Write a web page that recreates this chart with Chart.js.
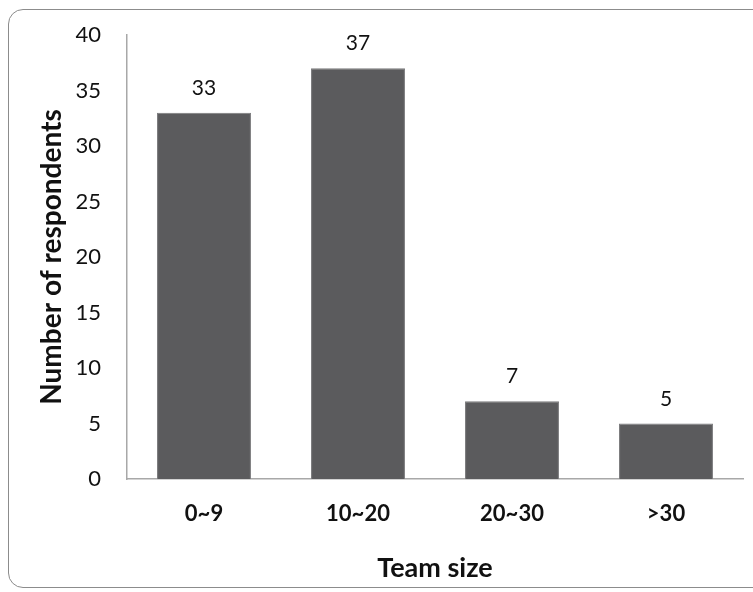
<!DOCTYPE html>
<html>
<head>
<meta charset="utf-8">
<script src="https://cdn.jsdelivr.net/npm/chart.js@4"></script>
<style>
  html, body { margin: 0; padding: 0; background: #fff; }
  #wrap { position: relative; width: 753px; height: 592px; overflow: hidden; }
  #frame {
    position: absolute; left: 8px; top: 9px; width: 770px; height: 579px;
    border: 1.5px solid #8c8c8c; border-radius: 15px; box-sizing: border-box;
  }
  canvas { position: absolute; left: 0; top: 0; }
</style>
</head>
<body>
<div id="wrap">
  <div id="frame"></div>
  <canvas id="chart" width="753" height="592"></canvas>
</div>
<script>
const categories = ['0~9', '10~20', '20~30', '>30'];
const respondents = [33, 37, 7, 5];
const yTicks = [0, 5, 10, 15, 20, 25, 30, 35, 40];

const FONT = 'Lato, "Open Sans", sans-serif';

// draws the count above each bar
const valueLabels = {
  id: 'valueLabels',
  afterDatasetsDraw(chart) {
    const ctx = chart.ctx;
    const meta = chart.getDatasetMeta(0);
    ctx.save();
    ctx.font = '21px ' + FONT;
    ctx.fillStyle = '#111';
    ctx.textAlign = 'center';
    ctx.textBaseline = 'alphabetic';
    meta.data.forEach((bar, i) => {
      ctx.fillText(String(chart.data.datasets[0].data[i]), bar.x, bar.y - 18);
    });
    ctx.restore();
  }
};

new Chart(document.getElementById('chart'), {
  type: 'bar',
  data: {
    labels: categories,
    datasets: [{
      data: respondents,
      backgroundColor: '#5b5b5d',
      borderColor: '#7a7a7c',
      borderWidth: 1,
      barPercentage: 0.61,
      categoryPercentage: 1
    }]
  },
  options: {
    responsive: false,
    animation: false,
    layout: { padding: { left: 0, top: 0, right: 10, bottom: 0 } },
    plugins: {
      legend: { display: false },
      tooltip: { enabled: false }
    },
    scales: {
      x: {
        grid: { display: false, drawTicks: false },
        border: { color: '#a8a8a8', width: 1.5 },
        ticks: {
          color: '#111',
          font: { family: FONT, size: 22, weight: 'bold' },
          padding: 22
        },
        title: {
          display: true,
          text: 'Team size',
          color: '#111',
          font: { family: FONT, size: 27, weight: 'bold' },
          padding: { top: 0, bottom: 8 }
        },
        afterFit(scale) { scale.height = 113; }
      },
      y: {
        min: 0,
        max: 40,
        afterBuildTicks(scale) { scale.ticks = yTicks.map(v => ({ value: v })); },
        grid: { display: false, drawTicks: false },
        border: { color: '#a8a8a8', width: 1.5 },
        ticks: {
          color: '#111',
          font: { family: FONT, size: 22 },
          padding: 26
        },
        title: {
          display: true,
          text: 'Number of respondents',
          color: '#111',
          font: { family: FONT, size: 28, weight: 'bold' },
          padding: { top: 35, bottom: 0 }
        },
        // tick padding also pads the top of the axis, so pin both here
        afterFit(scale) {
          scale.width = 127;
          scale.paddingTop = 35;
        }
      }
    }
  },
  plugins: [valueLabels]
});
</script>
</body>
</html>
